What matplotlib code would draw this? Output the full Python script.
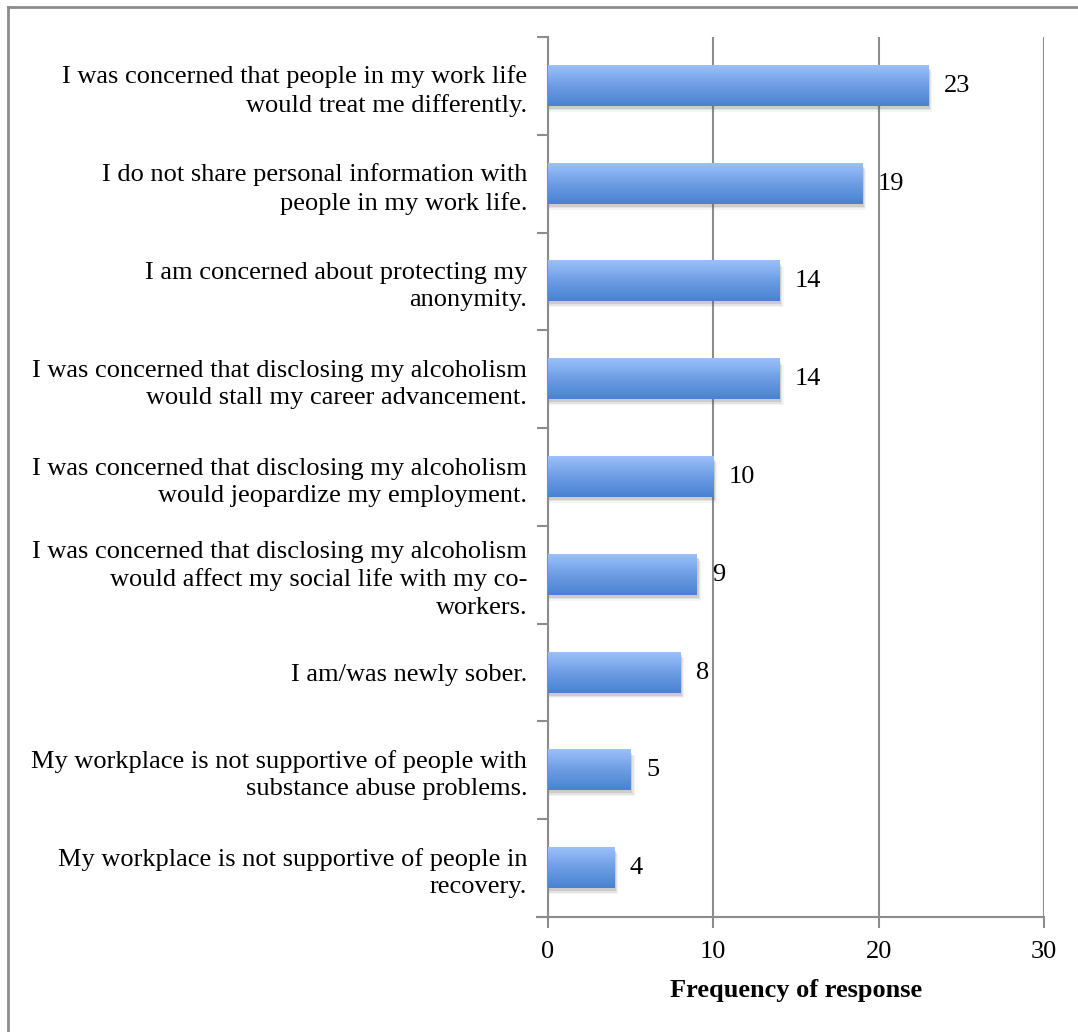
import numpy as np
import matplotlib.pyplot as plt
from matplotlib.lines import Line2D
from matplotlib.colors import LinearSegmentedColormap

plt.rcParams['font.family'] = ['Liberation Serif', 'DejaVu Serif']

# dane (od góry)
etykiety = [
    "I was concerned that people in my work life\nwould treat me differently.",
    "I do not share personal information with\npeople in my work life.",
    "I am concerned about protecting my\nanonymity.",
    "I was concerned that disclosing my alcoholism\nwould stall my career advancement.",
    "I was concerned that disclosing my alcoholism\nwould jeopardize my employment.",
    "I was concerned that disclosing my alcoholism\nwould affect my social life with my co-\nworkers.",
    "I am/was newly sober.",
    "My workplace is not supportive of people with\nsubstance abuse problems.",
    "My workplace is not supportive of people in\nrecovery.",
]
wartosci = [23, 19, 14, 14, 10, 9, 8, 5, 4]
x_ticks = [0, 10, 20, 30]

fs = 19
fig = plt.figure(figsize=(10.78, 10.32), dpi=100)
ax = fig.add_axes([548/1078, 1-917/1032, (1044-548)/1078, (917-37)/1032])

szary = '#8c8c8c'
n = len(wartosci)
y = np.arange(n)
h = 0.41

# gradient slupkow: jasny u gory, ciemniejszy u dolu
cmap = LinearSegmentedColormap.from_list('g', ['#4a82d0', '#6d9de4', '#9bc0fa'])
grad = np.linspace(0, 1, 64).reshape(-1, 1)

for i, v in enumerate(wartosci):
    # cien
    for k, a in enumerate([0.16, 0.10, 0.06]):
        ax.barh(y[i] + 0.03 + k*0.015, v + 0.06 + k*0.07, height=h, left=0.05,
                color='#555555', alpha=a, zorder=2, linewidth=0)
    ax.imshow(grad, extent=[0, v, y[i] + h/2, y[i] - h/2], origin='lower',
              cmap=cmap, aspect='auto', zorder=3)
    ax.annotate(str(v), xy=(v, y[i]), xytext=(11, 0), textcoords='offset points',
                va='center', ha='left', fontsize=fs)

ax.set_xlim(0, 30)
ax.set_ylim(n - 0.5, -0.5)

ax.set_xticks(x_ticks)
ax.set_xticklabels([str(t) for t in x_ticks], fontsize=fs)
ax.grid(axis='x', color=szary, linewidth=1.5, zorder=1)
ax.set_axisbelow(True)

ax.set_yticks(y)
ax.set_yticklabels(etykiety, fontsize=fs, linespacing=1.3)
ax.tick_params(axis='y', length=0, pad=15)
ax.set_yticks(np.arange(-0.5, n, 1), minor=True)
ax.tick_params(axis='y', which='minor', length=8, width=1.5, color=szary)
ax.tick_params(axis='x', length=8, width=1.5, color=szary, pad=9)

for s in ['top', 'right']:
    ax.spines[s].set_visible(False)
for s in ['left', 'bottom']:
    ax.spines[s].set_color(szary)
    ax.spines[s].set_linewidth(1.5)
ax.spines['bottom'].set_bounds(-0.65, 30)

ax.set_xlabel('Frequency of response', fontsize=fs, fontweight='bold', labelpad=12)

# ramka
fig.add_artist(Line2D([8/1078, 8/1078], [0, 1-7/1032], transform=fig.transFigure, color=szary, lw=2))
fig.add_artist(Line2D([8/1078, 1], [1-7/1032, 1-7/1032], transform=fig.transFigure, color=szary, lw=2))

plt.savefig('out.png', dpi=100)
